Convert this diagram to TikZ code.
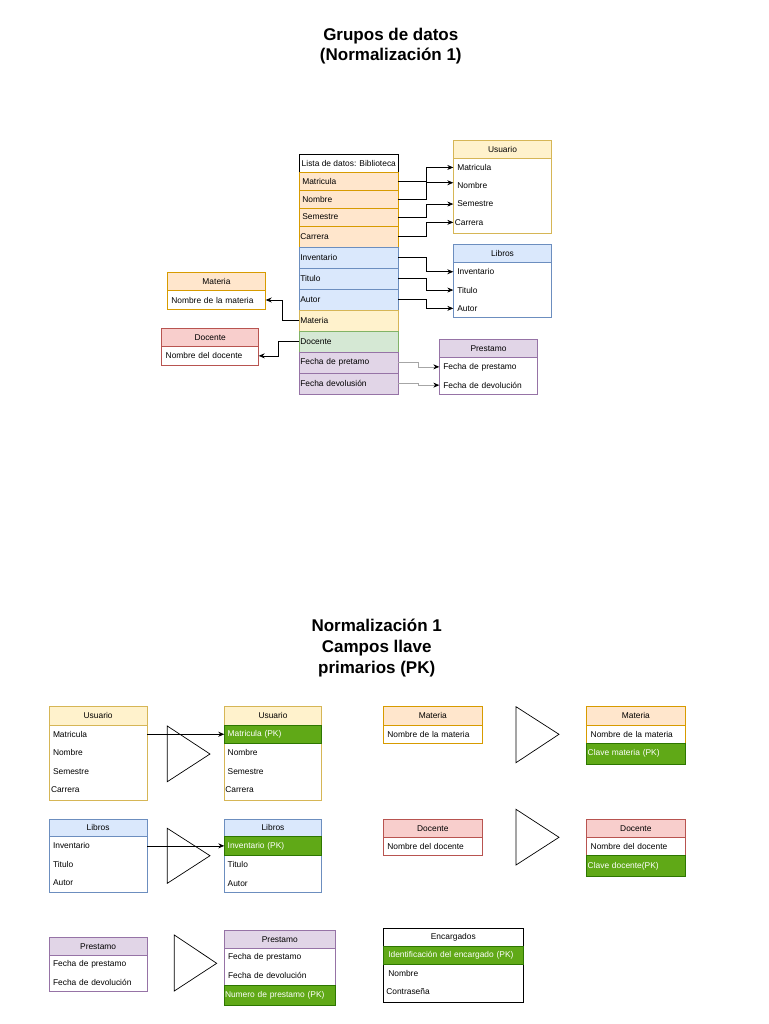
\documentclass[tikz,border=0pt]{standalone}
\usepackage{fontspec}
\setmainfont{Liberation Sans}
\usetikzlibrary{arrows.meta}

\definecolor{naranjaF}{HTML}{FFE6CC}
\definecolor{naranjaL}{HTML}{D79B00}
\definecolor{amarilloF}{HTML}{FFF2CC}
\definecolor{amarilloL}{HTML}{D6B656}
\definecolor{azulF}{HTML}{DAE8FC}
\definecolor{azulL}{HTML}{6C8EBF}
\definecolor{verdeF}{HTML}{D5E8D4}
\definecolor{verdeL}{HTML}{82B366}
\definecolor{rojoF}{HTML}{F8CECC}
\definecolor{rojoL}{HTML}{B85450}
\definecolor{moradoF}{HTML}{E1D5E7}
\definecolor{moradoL}{HTML}{9673A6}
\definecolor{pkF}{HTML}{60A917}
\definecolor{pkL}{HTML}{2D7600}
\definecolor{grisL}{HTML}{A6A6A6}

\tikzset{
  letra/.style={font=\fontsize{8.4}{10}\selectfont},
  cabeza/.style 2 args={letra, draw=#2, fill=#1, anchor=north west, inner sep=0pt, outer sep=0pt, minimum height=18.3pt},
  fila/.style={letra, anchor=north west, inner xsep=4pt, inner ysep=0pt, outer sep=0pt, minimum height=18.3pt, text width=#1, align=left},
  fila/.default=90.4pt,
  pk/.style={fill=pkF, draw=pkL, text=white},
  flecha/.style={-{Stealth[length=6pt,width=5pt]}},
  titulo/.style={font=\fontsize{17}{20.6}\selectfont\bfseries, align=center},
}

\begin{document}
\begin{tikzpicture}[x=1pt,y=-1pt,line width=0.7pt]
        \useasboundingbox (0,0) rectangle (768,1024);
        \node[titulo] (t1) at (390.8,46) {Grupos de datos\\(Normalización 1)};

        % lista de datos
        \node[cabeza={white}{black}, minimum width=99pt] (lista) at (299.3,154) {Lista de datos: Biblioteca};
        \node[fila=93pt, inner xsep=3pt, draw=naranjaL, fill=naranjaF, minimum height=18pt] (lMat) at (299.3,172.3) {Matricula};
        \node[fila=93pt, inner xsep=3pt, draw=naranjaL, fill=naranjaF, minimum height=17.7pt] (lNom) at (299.3,190.3) {Nombre};
        \node[fila=93pt, inner xsep=3pt, draw=naranjaL, fill=naranjaF, minimum height=18pt] (lSem) at (299.3,208) {Semestre};
        \node[fila=97pt, inner xsep=1pt, draw=naranjaL, fill=naranjaF, minimum height=21pt] (lCar) at (299.3,226) {Carrera};
        \node[fila=97pt, inner xsep=1pt, draw=azulL, fill=azulF, minimum height=21pt] (lInv) at (299.3,247) {Inventario};
        \node[fila=97pt, inner xsep=1pt, draw=azulL, fill=azulF, minimum height=21pt] (lTit) at (299.3,268) {Titulo};
        \node[fila=97pt, inner xsep=1pt, draw=azulL, fill=azulF, minimum height=21pt] (lAut) at (299.3,289) {Autor};
        \node[fila=97pt, inner xsep=1pt, draw=amarilloL, fill=amarilloF, minimum height=21pt] (lMate) at (299.3,310) {Materia};
        \node[fila=97pt, inner xsep=1pt, draw=verdeL, fill=verdeF, minimum height=21pt] (lDoc) at (299.3,331) {Docente};
        \node[fila=97pt, inner xsep=1pt, draw=moradoL, fill=moradoF, minimum height=21pt] (lFpr) at (299.3,352) {Fecha de pretamo};
        \node[fila=97pt, inner xsep=1pt, draw=moradoL, fill=moradoF, minimum height=21pt] (lFdv) at (299.3,373) {Fecha devolusión};

        % Usuario
        \draw[amarilloL] (453.3,140) rectangle (551.7,233.3);
        \node[cabeza={amarilloF}{amarilloL}, minimum width=98.4pt] (usu) at (453.3,140) {Usuario};
        \node[fila] (uMat) at (453.3,158.3) {Matricula};
        \node[fila] (uNom) at (453.3,176.6) {Nombre};
        \node[fila] (uSem) at (453.3,194.9) {Semestre};
        \node[fila=95.4pt, inner xsep=1.5pt] (uCar) at (453.3,213.2) {Carrera};

        % Libros
        \draw[azulL] (453.3,244.3) rectangle (551.7,317.3);
        \node[cabeza={azulF}{azulL}, minimum width=98.4pt] (lib) at (453.3,244.3) {Libros};
        \node[fila] (bInv) at (453.3,262.6) {Inventario};
        \node[fila] (bTit) at (453.3,280.9) {Titulo};
        \node[fila] (bAut) at (453.3,299.2) {Autor};

        % Materia
        \draw[naranjaL] (167.3,272.3) rectangle (265.7,309.3);
        \node[cabeza={naranjaF}{naranjaL}, minimum width=98.4pt, minimum height=18.4pt] (mat) at (167.3,272.3) {Materia};
        \node[fila, minimum height=18.6pt] (mNom) at (167.3,290.7) {Nombre de la materia};

        % Docente
        \draw[rojoL] (161.7,328.3) rectangle (258.7,365);
        \node[cabeza={rojoF}{rojoL}, minimum width=97pt, minimum height=18.4pt] (doc) at (161.7,328.3) {Docente};
        \node[fila=89pt, minimum height=18.3pt] (dNom) at (161.7,346.7) {Nombre del docente};

        % Prestamo
        \draw[moradoL] (439.3,339.3) rectangle (537.7,394);
        \node[cabeza={moradoF}{moradoL}, minimum width=98.4pt, minimum height=18.4pt] (pre) at (439.3,339.3) {Prestamo};
        \node[fila] (pFpr) at (439.3,357.7) {Fecha de prestamo};
        \node[fila] (pFdv) at (439.3,376) {Fecha de devolución};

        % conexiones
        \draw[flecha] (lMat.east) -- ++(27.7,0) |- (uMat.west);
        \draw[flecha] (lNom.east) -- ++(27.7,0) |- ([yshift=3pt]uNom.west);
        \draw[flecha] (lSem.east) -- ++(27.7,0) |- (uSem.west);
        \draw[flecha] (lCar.east) -- ++(27.7,0) |- (uCar.west);
        \draw[flecha] (lInv.east) -- ++(27.7,0) |- (bInv.west);
        \draw[flecha] (lTit.east) -- ++(27.7,0) |- (bTit.west);
        \draw[flecha] (lAut.east) -- ++(27.7,0) |- (bAut.west);
        \draw[flecha] (lMate.west) -- ++(-16.6,0) |- (mNom.east);
        \draw[flecha] (lDoc.west) -- ++(-21.3,0) |- (dNom.east);
        \draw[grisL, -{Stealth[length=6pt,width=5pt,color=black]}] (lFpr.east) -- ++(19.7,0) |- (pFpr.west);
        \draw[grisL, -{Stealth[length=6pt,width=5pt,color=black]}] (lFdv.east) -- ++(19.7,0) |- (pFdv.west);

        \node[titulo, font=\fontsize{17}{20.8}\selectfont\bfseries] (t2) at (376.7,648) {Normalización 1\\Campos llave\\primarios (PK)};

        % Usuario -> Usuario
        \draw[amarilloL] (49,706.7) rectangle (147.3,800.7);
        \node[cabeza={amarilloF}{amarilloL}, minimum width=98.3pt] (usuA) at (49,706.7) {Usuario};
        \node[fila=90.3pt, minimum height=18.5pt] (uAMat) at (49,725) {Matricula};
        \node[fila=90.3pt, minimum height=18.5pt] (uANom) at (49,743.5) {Nombre};
        \node[fila=90.3pt, minimum height=18.5pt] (uASem) at (49,762) {Semestre};
        \node[fila=94.3pt, inner xsep=2pt, minimum height=18.5pt] (uACar) at (49,780.5) {Carrera};
        \draw (167.3,726) -- (167.3,781.7) -- (210,754) -- cycle;
        \draw[amarilloL] (224.3,706.7) rectangle (321.7,800.7);
        \node[cabeza={amarilloF}{amarilloL}, minimum width=97.4pt] (usuB) at (224.3,706.7) {Usuario};
        \node[fila=90.6pt, inner xsep=3.4pt, pk, minimum height=18.7pt] (uBMat) at (224.3,725) {Matricula (PK)};
        \node[fila=90.6pt, inner xsep=3.4pt, minimum height=18.5pt] (uBNom) at (224.3,743.7) {Nombre};
        \node[fila=90.6pt, inner xsep=3.4pt, minimum height=18.5pt] (uBSem) at (224.3,762.2) {Semestre};
        \node[fila=95.4pt, inner xsep=1pt, minimum height=18.5pt] (uBCar) at (224.3,780.7) {Carrera};
        \draw[flecha] (uAMat.east) -- (uAMat.east -| uBMat.west);

        % Libros -> Libros
        \draw[azulL] (49,819) rectangle (147.3,892.3);
        \node[cabeza={azulF}{azulL}, minimum width=98.3pt, minimum height=17.7pt] (libA) at (49,819) {Libros};
        \node[fila=90.3pt] (bAInv) at (49,836.7) {Inventario};
        \node[fila=90.3pt] (bATit) at (49,855) {Titulo};
        \node[fila=90.3pt] (bAAut) at (49,873.3) {Autor};
        \draw (167.3,828.3) -- (167.3,883.3) -- (210,855.7) -- cycle;
        \draw[azulL] (224.3,819) rectangle (321.7,892.3);
        \node[cabeza={azulF}{azulL}, minimum width=97.4pt, minimum height=17.7pt] (libB) at (224.3,819) {Libros};
        \node[fila=90.6pt, inner xsep=3.4pt, pk, minimum height=19pt] (bBInv) at (224.3,836.7) {Inventario (PK)};
        \node[fila=90.6pt, inner xsep=3.4pt] (bBTit) at (224.3,855.7) {Titulo};
        \node[fila=90.6pt, inner xsep=3.4pt] (bBAut) at (224.3,874) {Autor};
        \draw[flecha] (bAInv.east) -- (bAInv.east -| bBInv.west);

        % Materia -> Materia
        \draw[naranjaL] (383.3,706.7) rectangle (482.3,743.3);
        \node[cabeza={naranjaF}{naranjaL}, minimum width=99pt] (matA) at (383.3,706.7) {Materia};
        \node[fila=91pt] (mANom) at (383.3,725) {Nombre de la materia};
        \draw (516,706.7) -- (516,762.7) -- (559,734.3) -- cycle;
        \draw[naranjaL] (586.7,706.7) rectangle (685,743.3);
        \node[cabeza={naranjaF}{naranjaL}, minimum width=98.3pt] (matB) at (586.7,706.7) {Materia};
        \node[fila] (mBNom) at (586.7,725) {Nombre de la materia};
        \node[fila=96.3pt, inner xsep=1pt, pk, minimum height=21pt] (mBPk) at (586.7,743.3) {Clave materia (PK)};

        % Docente -> Docente
        \draw[rojoL] (383.3,819) rectangle (482.3,855.7);
        \node[cabeza={rojoF}{rojoL}, minimum width=99pt] (docA) at (383.3,819) {Docente};
        \node[fila=91pt, minimum height=18.4pt] (dANom) at (383.3,837.3) {Nombre del docente};
        \draw (516,809.3) -- (516,865) -- (559,837.3) -- cycle;
        \draw[rojoL] (586.7,819) rectangle (685,855.7);
        \node[cabeza={rojoF}{rojoL}, minimum width=98.3pt] (docB) at (586.7,819) {Docente};
        \node[fila, minimum height=18.4pt] (dBNom) at (586.7,837.3) {Nombre del docente};
        \node[fila=96.3pt, inner xsep=1pt, pk, minimum height=20.8pt] (dBPk) at (586.7,855.7) {Clave docente(PK)};

        % Prestamo -> Prestamo
        \draw[moradoL] (49,937.3) rectangle (147.3,991.7);
        \node[cabeza={moradoF}{moradoL}, minimum width=98.3pt, minimum height=17.7pt] (preA) at (49,937.3) {Prestamo};
        \node[fila=90.3pt] (pAFpr) at (49,955) {Fecha de prestamo};
        \node[fila=90.3pt] (pAFdv) at (49,973.3) {Fecha de devolución};
        \draw (174.3,935) -- (174.3,991) -- (216.7,963.3) -- cycle;
        \draw[moradoL] (224,930.7) rectangle (335.7,985);
        \node[cabeza={moradoF}{moradoL}, minimum width=111.7pt, minimum height=17.6pt] (preB) at (224,930.7) {Prestamo};
        \node[fila=103.7pt] (pBFpr) at (224,948.3) {Fecha de prestamo};
        \node[fila=103.7pt] (pBFdv) at (224,966.6) {Fecha de devolución};
        \node[fila=109.7pt, inner xsep=1pt, pk, minimum height=20pt] (pBPk) at (224,985) {Numero de prestamo (PK)};

        % Encargados
        \draw (383.3,928.3) rectangle (523.3,1002.7);
        \node[cabeza={white}{black}, minimum width=140pt, minimum height=17.7pt] (enc) at (383.3,928.3) {Encargados};
        \node[fila=130pt, inner xsep=5pt, pk] (eId) at (383.3,946) {Identificación del encargado (PK)};
        \node[fila=130pt, inner xsep=5pt, minimum height=18pt] (eNom) at (383.3,964.3) {Nombre};
        \node[fila=134pt, inner xsep=3pt] (eCon) at (383.3,982.3) {Contraseña};
\end{tikzpicture}
\end{document}
